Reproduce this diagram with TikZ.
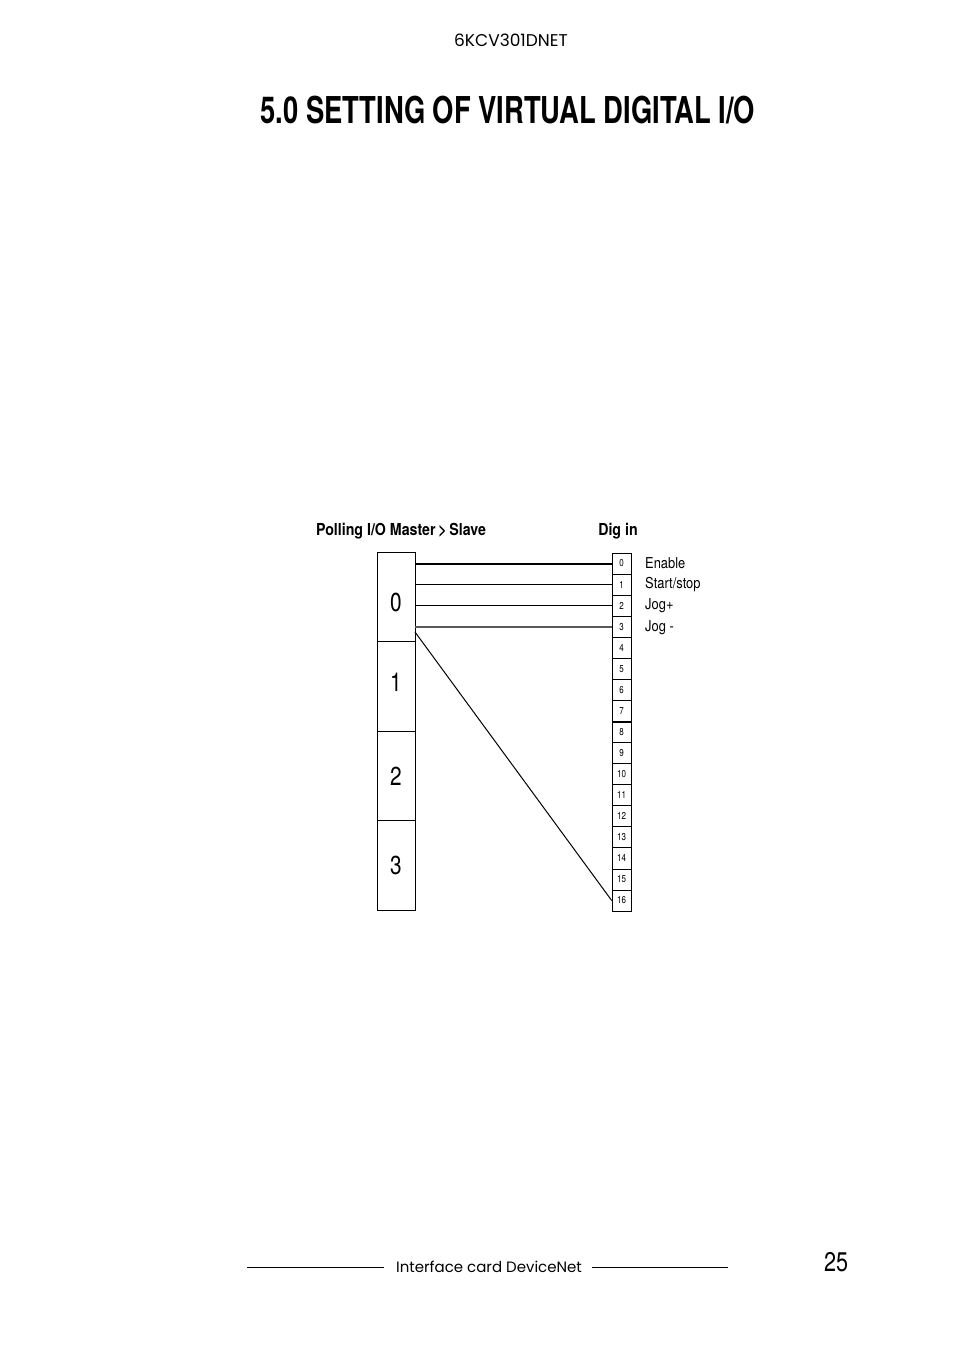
\documentclass[tikz,border=0pt]{standalone}
\usepackage{fontspec}
\setmainfont{TeX Gyre Heros}
\newfontfamily\condfont[FakeStretch=0.8]{TeX Gyre Heros}
\newfontfamily\narrowfont[FakeStretch=0.86]{TeX Gyre Heros}
\newfontfamily\titlefont[FakeStretch=0.74]{TeX Gyre Heros}
\newfontfamily\geofont{Poppins}
\usetikzlibrary{positioning}

\begin{document}
\begin{tikzpicture}[x=1pt,y=-1pt]
\tikzstyle{every node}+=[inner sep=0pt]
\tikzstyle{wordbox}=[draw,line width=0.8pt,minimum width=38pt,minimum height=89.5pt,text depth=0pt]
\tikzstyle{digcell}=[draw,line width=0.7pt,minimum width=19pt,minimum height=21.06pt,font=\condfont\fontsize{10}{10}\selectfont]
\tikzstyle{siglabel}=[anchor=west,font=\narrowfont\fontsize{15}{15}\selectfont]
\tikzstyle{head}=[font=\narrowfont\bfseries\fontsize{16.5}{16.5}\selectfont]
\useasboundingbox (0,0) rectangle (954,1352);
\node (code) at (511,40) {\geofont\fontsize{17}{17}\selectfont 6KCV301DNET};
\node (title) at (508,110) {\titlefont\bfseries\fontsize{37}{37}\selectfont 5.0 SETTING OF VIRTUAL DIGITAL I/O};
\node[head] (poll) at (401,531) {Polling I/O Master\,>\,Slave};
\node[head] (digin) at (618,531) {Dig in};
\foreach \i in {0,...,3}
  \node[wordbox] (w\i) at (396,597+89.5*\i) {};
\foreach \i/\dy in {0/-5,1/4,2/0,3/0}
  \node[font=\condfont\fontsize{26}{26}\selectfont] at ([yshift=\dy pt]w\i.center) {\i};
\foreach \i in {0,...,16}
  \node[digcell] (d\i) at (621.5,563.5+21.06*\i) {\i};
\draw [line width=1.8pt] (d7.south west) -- (d7.south east);
\draw [line width=2pt] (w0.east |- d0) -- (d0.west);
\draw [line width=1.2pt] (w0.east |- d1) -- (d1.west);
\draw [line width=1.2pt] (w0.east |- d2) -- (d2.west);
\draw [line width=2pt,black!65] (w0.east |- d3) -- (d3.west);
\coordinate (tap) at (415,632);
\draw [line width=1pt] (tap) -- (d16.west);
\node[siglabel] (en) at (645,563.5) {Enable};
\node[siglabel] (ss) at (645,584.6) {Start/stop};
\node[siglabel] (jp) at (645,605.6) {Jog+};
\node[siglabel] (jm) at (645,628) {Jog -};
\node (foot) at (489,1267) {\geofont\fontsize{15}{15}\selectfont Interface card DeviceNet};
\draw [line width=0.8pt] (247,1267) -- (384,1267);
\draw [line width=0.8pt] (592,1267) -- (728,1267);
\node (page) at (836,1262) {\condfont\fontsize{27}{27}\selectfont 25};
\end{tikzpicture}
\end{document}
